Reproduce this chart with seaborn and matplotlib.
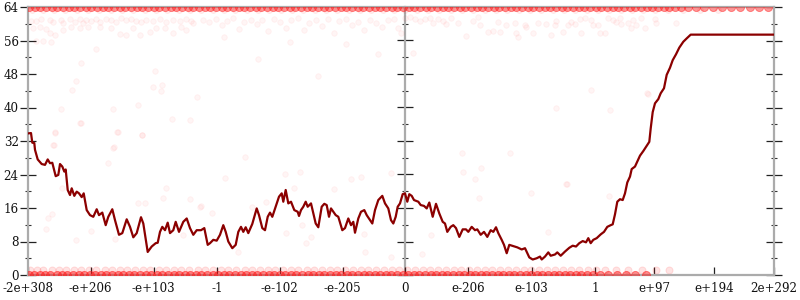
import matplotlib
matplotlib.use("Agg")
import matplotlib.pyplot as plt
import pandas as pd
import seaborn as sns

# ---------------- data ----------------
tick_pos = [0, 63, 126, 189.6, 252, 315, 377.6, 440.6, 504, 567.3, 626.3, 686.3, 746.3]
tick_labels = ["-2e+308", "-e+206", "-e+103", "-1", "-e-102", "-e-205", "0",
               "e-206", "e-103", "1", "e+97", "e+194", "2e+292"]
zero_pos = 377.6
x_max = 746.3

line_x = [0, 3.3, 4.6, 6.6, 7.3, 10, 14, 17.3, 20, 22.3,
          24.6, 28, 30.6, 32.3, 34.6, 36.6, 38, 40, 42.3, 44,
          46.6, 49, 51.3, 54, 56, 59, 62.3, 65.6, 69, 71.3,
          74.6, 78, 80.6, 84.6, 87.3, 91.3, 94.6, 99, 102.3, 105.6,
          109, 113.3, 115.6, 120, 124, 128, 130, 132.3,
          134.6, 137.3, 140, 142.3, 145.6, 148, 151.3, 155.6, 159, 162.3,
          165.6, 169, 173.3, 176.6, 180, 182.3, 185.6, 189, 192.3, 195.6,
          198, 200.6, 204.6, 208, 210.6, 213.3, 215.6, 218, 220.6, 224.6,
          229, 231.3, 234.6, 237.3, 240, 242.3, 244.6, 248, 251.3, 254,
          255.6, 258, 260.6,
          263.3, 266.6, 270, 271.3, 273.3, 275.6, 278, 280, 283.3, 285.6,
          288, 290.6, 294, 296.6, 299, 301.3, 303.3, 305.6, 308, 310.6,
          314.6, 317.3, 320.6, 323.3, 325.6, 327.3, 330.6, 333.3, 336.6, 339,
          342.3, 344.6, 347.3, 350.6, 354.6, 357.3, 360.6, 363.3, 365.6, 368,
          370, 372.3,
          375, 377.3, 379.6, 381.6, 384, 386.3, 390.6, 393, 396.3, 399,
          401.6, 405, 408.3, 411.6, 415, 417.3, 419.6, 423, 425.6, 428.3,
          431.6, 435, 438.3, 440.6, 444, 447.3, 449.6, 453, 456.3, 459.6,
          463, 465.6, 468.3, 470.6, 474, 476.3, 479, 481.6, 485.6, 489.6,
          494, 497.3, 501.6, 505, 509, 512.3,
          514, 517.3, 520.6, 523, 527.3, 529.6, 533, 537.3, 541.6, 545,
          548.3, 551.6, 555, 558.3, 560.6, 563, 565.6, 569, 573, 576.3,
          579.6, 583, 585, 587.3, 589.6, 592.3, 595, 597.3, 599.6, 602.3,
          604, 607.3, 609.6, 612.3, 615.6, 618.3, 621.6, 623, 625, 627.3,
          630.6, 633, 636.3, 639, 642.3, 645, 648.3, 651.6, 655.6, 659,
          663, 746.3]
line_y = [33.8, 33.9, 31.6, 31.5, 29.9, 27.6, 26.5, 26.3, 27.6, 26.7,
          26.8, 23.6, 23.9, 26.5, 25.9, 24.7, 25.2, 20.3, 19.1, 20.7,
          18.9, 19.9, 19.5, 18.6, 19.5, 15.5, 14.3, 13.9, 15.7, 14.3,
          14.9, 11.9, 13.9, 15.7, 13.1, 9.6, 10.0, 13.3, 11.5, 9.0,
          10.0, 13.8, 12.3, 5.5, 6.8, 7.6, 7.7, 10.3,
          11.5, 10.7, 12.5, 10.0, 10.7, 12.7, 10.3, 12.7, 13.5, 11.2,
          9.6, 10.7, 10.7, 11.2, 7.2, 7.6, 8.4, 8.2, 9.6, 11.9,
          10.3, 8.0, 6.4, 7.2, 10.3, 11.5, 10.3, 11.4, 10.0, 12.2,
          15.9, 14.3, 11.2, 10.7, 13.9, 14.9, 13.9, 16.3, 18.7, 19.5,
          17.5, 20.3, 17.1,
          17.5, 15.5, 15.1, 14.1, 15.5, 16.3, 17.5, 16.3, 17.1, 14.7,
          12.3, 11.4, 16.3, 17.0, 16.7, 13.9, 15.9, 15.1, 14.3, 13.9,
          10.7, 11.2, 13.5, 11.9, 12.7, 10.1, 13.5, 15.1, 15.5, 14.3,
          13.1, 12.3, 15.5, 17.9, 18.9, 17.1, 15.9, 13.1, 12.3, 13.9,
          16.3, 17.1,
          19.3, 19.5, 17.5, 19.3, 18.9, 17.9, 17.5, 16.7, 16.5, 15.9,
          17.3, 13.9, 17.0, 14.7, 12.7, 12.3, 10.3, 11.5, 11.9, 11.2,
          9.1, 10.9, 10.9, 10.3, 11.5, 10.7, 10.9, 9.6, 10.3, 9.1,
          10.7, 10.3, 11.4, 10.0, 8.4, 7.2, 5.2, 7.2, 6.9, 6.6,
          6.1, 6.4, 4.2, 3.7, 4.0, 4.4,
          3.7, 4.4, 5.4, 4.6, 4.9, 5.4, 4.6, 5.6, 6.5, 7.0,
          6.8, 7.6, 8.1, 7.8, 8.8, 7.6, 8.4, 8.8, 9.7, 10.3,
          11.5, 11.9, 12.1, 14.5, 17.5, 18.1, 17.9, 19.5, 22.1, 23.5,
          25.3, 25.9, 27.1, 28.5, 29.6, 30.6, 31.8, 35.0, 38.9, 41.0,
          42.0, 43.4, 44.6, 47.8, 49.5, 51.3, 52.7, 54.3, 55.7, 56.5,
          57.4, 57.4]

# dense sample bands (y = 0, y = 1, y = 63, y = 64)
zero_x = [1, 6, 12, 17, 22, 29, 34, 39, 45, 51, 56, 62, 67, 73, 78, 84, 90, 95,
          101, 106, 112, 118, 123, 129, 134, 140, 146, 151, 157, 162, 168, 173,
          179, 185, 190, 196, 201, 207, 213, 218, 224, 229, 235, 241, 246, 252,
          257, 263, 268, 274, 280, 285, 291, 296, 302, 308, 313, 319, 324, 330,
          336, 341, 347, 352, 358, 363, 369, 375, 380, 386, 391, 397, 403, 408,
          414, 419, 425, 431, 436, 442, 447, 453, 458, 464, 470, 475, 481, 486,
          492, 498, 503, 509, 514, 520, 526, 531, 537, 542, 548, 553, 559, 565,
          572, 580, 589, 598, 607, 618]
one_x = [2, 9, 15, 24, 31, 38, 46, 53, 61, 68, 77, 84, 92, 99, 107, 115, 122,
         131, 138, 146, 153, 161, 170, 177, 185, 193, 200, 208, 217, 224, 232,
         240, 247, 255, 263, 270, 279, 286, 294, 302, 309, 317, 325, 333, 340,
         348, 356, 364, 371, 379, 387, 395, 402, 410, 418, 426, 433, 441, 449,
         457, 464, 472, 480, 488, 496, 503, 511, 519, 527, 535, 543, 551, 560,
         568, 577, 588, 600, 614, 628, 641]
top_x = [1, 7, 12, 18, 24, 29, 35, 41, 46, 52, 58, 63, 69, 75, 80, 86, 92, 97,
         103, 109, 114, 120, 126, 131, 137, 143, 148, 154, 160, 165, 171, 177,
         182, 188, 194, 199, 205, 211, 216, 222, 228, 233, 239, 245, 250, 256,
         262, 267, 273, 279, 284, 290, 296, 301, 307, 313, 318, 324, 330, 335,
         341, 347, 352, 358, 364, 369, 375, 381, 386, 392, 398, 403, 409, 415,
         420, 426, 432, 437, 443, 449, 454, 460, 466, 471, 477, 483, 488, 494,
         500, 505, 511, 517, 522, 528, 534, 539, 545, 551, 556, 562, 568, 573,
         579, 585, 590, 596, 602, 607, 613, 619, 624, 630, 636, 641, 647, 653,
         660, 668, 676, 685, 694, 703, 712, 722, 731, 740]
top2_x = [4, 15, 26, 37, 49, 60, 71, 83, 94, 105, 117, 128, 139, 151, 162, 173,
          185, 196, 207, 219, 230, 241, 253, 264, 275, 287, 298, 309, 321, 332,
          343, 355, 366, 377, 389, 400, 411, 423, 434, 445, 457, 468, 479, 491,
          502, 513, 525, 536, 547, 559, 570, 581, 593, 604, 615, 627, 640, 655,
          672, 690]

# scattered samples
scat_x = [3.7, 8.7, 13.7, 22, 25.3, 33.7, 35.3, 42, 47, 52, 55.3, 58.7, 63.7,
          68.7, 72, 78.7, 83.7, 88.7, 93.7, 98.7, 103.7, 108.7, 113.7, 118.7,
          125.3, 132, 138.7, 145.3, 152, 158.7, 163.7, 5.3, 12, 18.7, 22, 27,
          35.3, 43.7, 52, 60.3, 72, 83.7, 92, 98.7, 105.3, 112, 122, 128.7, 137,
          145.3, 153.7, 158.7, 165.3, 8.7, 15.3, 23.7, 68.7, 53.7, 127, 48.7,
          44.7, 125.3, 134.7, 133, 33.7, 85.3, 110.3, 52, 144.7, 162.7, 169.7,
          27, 90.3, 114.7, 25.3, 85.3,
          175, 181, 188, 194, 199, 205, 211, 216, 223, 229, 234, 240, 246, 252,
          258, 263, 270, 276, 281, 288, 294, 300, 306, 311, 318, 324, 330, 336,
          342, 348, 354, 360, 366, 370, 196, 262, 318, 230, 290, 350,
          377, 382, 387, 392, 397, 402, 405.3, 410.3, 415.3, 418.7, 423.7,
          430.3, 438.7, 445.3, 450.3, 452, 460.3, 465.3, 470.3, 472, 478.7, 487,
          488.7, 490.3, 497, 498.7, 505.3, 510.3, 518.7, 523.7, 527, 528.7,
          535.3, 540.3, 543.7, 547, 552, 553.7, 557, 563.7, 565.3, 570.3, 572,
          577, 580.3, 585.3, 588.7, 592, 593.7, 600.3, 603.7, 605.3, 608.7,
          613.7, 617, 627, 628.7, 648.7, 385.3, 373.7, 563.7, 620.3,
          53, 27.7, 89.7, 114.3, 26.3, 86.3, 80.3, 34.3, 110.3, 117, 20.3, 24.3,
          18.7, 63.7, 48.7, 87.7, 197, 138.7, 135.3, 162, 173, 184.3, 257,
          224.3, 238.7, 258.7, 210.3, 155.3, 272, 333.7, 323, 363.7, 266.3,
          306.3, 274.3, 283, 278.7, 336.3, 337, 217, 172, 434.7, 482.7, 435.3,
          453.7, 503.7, 447, 539.3, 451.3, 403.7, 394.7, 528, 582, 619.3, 538.7,
          581.3, 520.3, 363.7]
scat_y = [60.7, 60.7, 61.1, 60.9, 60.3, 60.9, 60.1, 61.1, 60.5, 61.1, 60.1,
          60.9, 60.7, 61.1, 60.3, 61.1, 60.9, 60.5, 61.3, 60.9, 61.1, 60.7,
          60.5, 60.9, 60.7, 61.1, 60.5, 60.9, 60.7, 61.1, 60.7, 58.9, 59.3,
          58.7, 57.7, 57.3, 58.5, 59.2, 58.9, 59.2, 59.3, 58.9, 57.6, 57.3,
          58.9, 57.3, 58.1, 58.9, 58.9, 57.7, 59.3, 58.5, 60.1, 56.0, 56.0,
          55.7, 53.9, 50.7, 48.8, 46.3, 44.2, 45.0, 45.4, 44.0, 39.6, 39.6,
          40.6, 36.2, 37.2, 36.9, 42.4, 34.1, 34.1, 33.4, 31.0, 30.4,
          60.9, 60.3, 61.1, 59.6, 60.7, 61.3, 58.8, 60.5, 61.0, 59.9, 60.8,
          58.2, 61.2, 60.4, 59.1, 60.9, 61.3, 58.6, 60.2, 60.8, 59.5, 61.1,
          57.9, 60.6, 61.2, 59.8, 60.4, 58.4, 61.0, 60.2, 59.2, 60.8, 61.2,
          58.9, 56.8, 55.6, 55.2, 51.5, 47.6, 52.8,
          61.3, 61.5, 61.1, 60.7, 61.1, 61.3, 60.1, 61.1, 60.7, 59.9, 61.3,
          60.1, 57.1, 60.7, 61.5, 59.7, 58.1, 58.3, 60.5, 58.1, 59.7, 60.1,
          57.7, 56.9, 59.7, 59.2, 57.9, 60.1, 59.9, 57.3, 59.7, 60.7, 58.1,
          59.7, 60.3, 59.9, 61.1, 57.7, 61.3, 60.9, 59.7, 59.7, 57.7, 57.7,
          61.3, 60.9, 60.3, 61.3, 59.9, 60.1, 58.9, 60.9, 59.7, 61.3, 58.9,
          61.1, 60.1, 60.1, 52.9, 57.7, 44.2, 43.2,
          36.2, 33.8, 34.2, 33.4, 31.0, 30.5, 26.7, 20.7, 17.1, 17.1, 13.5,
          14.6, 11.1, 10.6, 8.4, 8.5, 23.1, 20.7, 18.3, 18.1, 16.5, 14.7,
          24.1, 16.2, 17.5, 10.0, 5.6, 9.6, 24.7, 23.3, 22.9, 24.4, 20.7,
          20.5, 11.9, 9.1, 7.7, 9.8, 5.6, 28.1, 16.3, 29.1, 29.2, 24.7, 25.5,
          19.7, 22.9, 21.7, 18.3, 9.6, 5.0, 39.8, 39.4, 43.4, 21.7, 18.9,
          10.3, 4.2]

y_major = [0, 8, 16, 24, 32, 40, 48, 56, 64]
y_minor = [4, 12, 20, 28, 36, 44, 52, 60]

# ---------------- style ----------------
sns.set_theme(style="white")
plt.rcParams["font.family"] = ["DejaVu Serif"]
plt.rcParams["font.size"] = 8

fig = plt.figure(figsize=(8, 3), dpi=100)
ax = fig.add_axes([27.7 / 800, 25 / 300, (774 - 27.7) / 800, 268 / 300])

red = "#ff1a1a"

sns.scatterplot(x=scat_x, y=scat_y, color=red, edgecolor=red, alpha=0.045,
                zorder=1, marker="o", s=16, linewidth=0.7, legend=False, ax=ax)
sns.scatterplot(x=one_x, y=[1.1] * len(one_x), color=red, edgecolor=red, alpha=0.12,
                zorder=1, marker="o", s=26, linewidth=0.7, legend=False, ax=ax)
sns.scatterplot(x=top2_x, y=[63.2] * len(top2_x), color=red, edgecolor=red, alpha=0.07,
                zorder=1, marker="o", s=18, linewidth=0.7, legend=False, ax=ax)
sns.scatterplot(x=zero_x, y=[0] * len(zero_x), color=red, edgecolor=red, alpha=0.5,
                zorder=3, marker="o", s=34, linewidth=0.7, legend=False, ax=ax)
sns.scatterplot(x=top_x, y=[64] * len(top_x), color=red, edgecolor=red, alpha=0.45,
                zorder=3, marker="o", s=34, linewidth=0.7, legend=False, ax=ax)

df = pd.DataFrame({"x": line_x, "y": line_y})
sns.lineplot(data=df, x="x", y="y", color="#8b0000", linewidth=1.6,
             sort=False, estimator=None, ax=ax, zorder=4)

ax.set_xlim(0, x_max)
ax.set_ylim(0, 64)
ax.set_xlabel("")
ax.set_ylabel("")

spine_col = "#ababab"
for s in ax.spines.values():
    s.set_visible(True)
    s.set_color(spine_col)
    s.set_linewidth(1.6)

ax.set_xticks(tick_pos)
ax.set_xticklabels(tick_labels)
ax.set_yticks(y_major)
ax.set_yticks(y_minor, minor=True)
ax.tick_params(axis="x", which="major", direction="in", length=6, width=0.9,
               color="#222222", labelcolor="#111111", pad=5, top=False, bottom=True,
               labelsize=8.6)
ax.tick_params(axis="y", which="major", direction="inout", length=11, width=0.9,
               color="#222222", labelcolor="#111111", pad=1, left=True, right=True,
               labelsize=8.6)
ax.tick_params(axis="y", which="minor", direction="inout", length=5, width=0.8,
               color="#333333", left=True, right=True)

# middle axis at zero
sec = ax.secondary_yaxis(zero_pos / x_max)
sec.set_yticks(y_major)
sec.set_yticks(y_minor, minor=True)
sec.tick_params(axis="y", which="major", direction="inout", length=11, width=0.9,
                color="#222222", labelleft=False, labelright=False)
sec.tick_params(axis="y", which="minor", direction="inout", length=5, width=0.8,
                color="#333333", labelleft=False, labelright=False)
for s in sec.spines.values():
    s.set_color(spine_col)
    s.set_linewidth(1.6)

fig.savefig("out.png", dpi=100)
